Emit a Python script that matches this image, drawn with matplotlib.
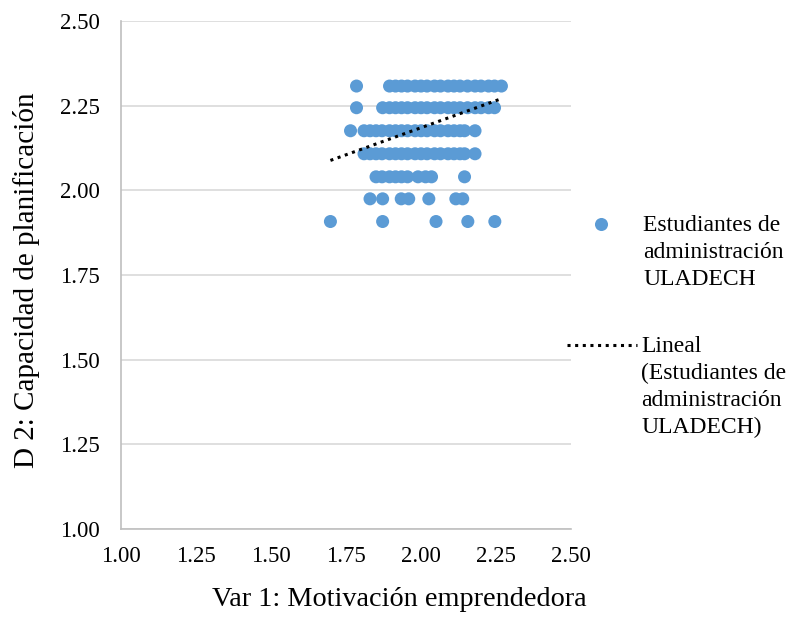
import matplotlib
matplotlib.use("Agg")
import matplotlib.pyplot as plt
from matplotlib.lines import Line2D
import numpy as np

plt.rcParams['font.family'] = ['Liberation Serif', 'DejaVu Serif']

# Data: rows of points (y level -> x values)
y_levels = [2.308, 2.244, 2.176, 2.108, 2.040, 1.975, 1.908]
row_2308 = [1.785, 1.895, 1.915, 1.935, 1.955, 1.98, 2.00, 2.02, 2.045, 2.065,
            2.09, 2.11, 2.13, 2.155, 2.18, 2.20, 2.225, 2.245, 2.268]
row_2244 = [1.785, 1.872, 1.895, 1.915, 1.935, 1.955, 1.98, 2.00, 2.02, 2.045,
            2.065, 2.09, 2.11, 2.13, 2.155, 2.18, 2.20, 2.225, 2.245]
row_2176 = [1.765, 1.81, 1.83, 1.85, 1.87, 1.895, 1.915, 1.935, 1.955, 1.98,
            2.00, 2.02, 2.045, 2.065, 2.09, 2.11, 2.13, 2.145, 2.18]
row_2108 = [1.81, 1.83, 1.85, 1.87, 1.895, 1.915, 1.935, 1.955, 1.98,
            2.00, 2.02, 2.045, 2.065, 2.09, 2.11, 2.13, 2.145, 2.18]
row_2040 = [1.85, 1.87, 1.895, 1.915, 1.935, 1.955, 1.99, 2.015, 2.035, 2.145]
row_1975 = [1.83, 1.872, 1.934, 1.959, 2.026, 2.116, 2.139]
row_1908 = [1.698, 1.872, 2.05, 2.156, 2.246]
rows = [row_2308, row_2244, row_2176, row_2108, row_2040, row_1975, row_1908]

# Linear trend
trend_slope = 0.32
trend_intercept = 1.545

x_ticks = [1.00, 1.25, 1.50, 1.75, 2.00, 2.25, 2.50]
y_ticks = [1.00, 1.25, 1.50, 1.75, 2.00, 2.25, 2.50]

series_label = "Estudiantes de\nadministración\nULADECH"
trend_label = "Lineal\n(Estudiantes de\nadministración\nULADECH)"
x_label = "Var 1: Motivación emprendedora"
y_label = "D 2: Capacidad de planificación"

xs = np.concatenate([np.array(r, dtype=float) for r in rows])
ys = np.concatenate([np.full(len(r), yl) for r, yl in zip(rows, y_levels)])

blue = "#5B9BD5"
fig = plt.figure(figsize=(7.92, 6.37), dpi=100)
ax = fig.add_axes([0.1528, 0.1695, 0.5682, 0.7975])

ax.scatter(xs, ys, s=88, color=blue, edgecolors='none', zorder=3)
tx = np.array([xs.min(), xs.max()])
ax.plot(tx, trend_slope * tx + trend_intercept, color='black', lw=2.2,
        linestyle=(0, (1, 1.5)), zorder=4)

ax.set_xlim(1.0, 2.5)
ax.set_ylim(1.0, 2.5)
ax.set_xticks(x_ticks)
ax.set_yticks(y_ticks)
ax.set_xticklabels([f"{v:.2f}" for v in x_ticks])
ax.set_yticklabels([f"{v:.2f}" for v in y_ticks])
ax.tick_params(length=0, labelsize=16.5, colors='black')
ax.tick_params(axis='y', pad=15)
ax.tick_params(axis='x', pad=12)
ax.yaxis.grid(True, color='#D9D9D9', lw=1.2, zorder=0)
ax.set_axisbelow(True)
for s in ['top', 'right']:
    ax.spines[s].set_visible(False)
for s in ['left', 'bottom']:
    ax.spines[s].set_color('#BFBFBF')
    ax.spines[s].set_linewidth(1.2)

fig.text(399 / 792, 1 - 599 / 637, x_label, fontsize=20.3, ha='center', va='center')
fig.text(27 / 792, 1 - 280 / 637, y_label, fontsize=21, ha='center', va='center',
         rotation=90)

# Legend (manual)
fig.add_artist(Line2D([601 / 792], [1 - 224 / 637], marker='o', markersize=9.4,
                      color=blue, markeredgecolor='none', linestyle='none',
                      transform=fig.transFigure))
fig.text(643 / 792, 1 - 215 / 637, series_label, fontsize=17, va='top', ha='left',
         linespacing=1.36)
fig.add_artist(Line2D([567 / 792, 637 / 792], [1 - 345 / 637] * 2, color='black',
                      lw=2.2, linestyle=(0, (1, 1.5)), transform=fig.transFigure))
fig.text(641 / 792, 1 - 336 / 637, trend_label, fontsize=17, va='top', ha='left',
         linespacing=1.36)

fig.savefig("out.png", dpi=100)
